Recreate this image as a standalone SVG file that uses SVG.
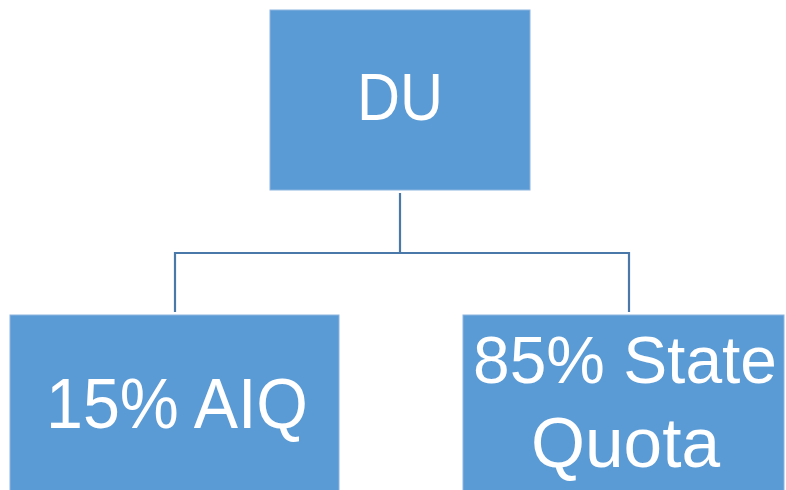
<svg xmlns="http://www.w3.org/2000/svg" width="786" height="490" viewBox="0 0 786 490">
<style>
.box{fill:#5B9BD5;stroke:#8DB5E0;stroke-width:1}
.lbl{fill:#FFFFFF;font-family:"Liberation Sans","DejaVu Sans",sans-serif;font-size:70px}
.conn{fill:none;stroke:#4A78A8;stroke-width:2.2}
</style>
<rect width="786" height="490" fill="#FFFFFF"/>
<g id="connectors">
<path class="conn" d="M400,193 V253 M175,253 H629 M175,252 V312 M629,252 V312"/>
</g>
<g id="du">
<rect class="box" x="270" y="10" width="260" height="180"/>
<text class="lbl" x="357" y="120" textLength="86" lengthAdjust="spacingAndGlyphs" style="font-size:66px">DU</text>
</g>
<g id="aiq">
<rect class="box" x="10" y="315" width="329" height="180"/>
<text class="lbl" x="46" y="428" textLength="262" lengthAdjust="spacingAndGlyphs">15% AIQ</text>
</g>
<g id="state">
<rect class="box" x="463" y="315" width="321" height="180"/>
<text class="lbl" x="473" y="383" textLength="304" lengthAdjust="spacingAndGlyphs" style="font-size:67px">85% State</text>
<text class="lbl" x="531" y="467" textLength="189" lengthAdjust="spacingAndGlyphs">Quota</text>
</g>
</svg>
